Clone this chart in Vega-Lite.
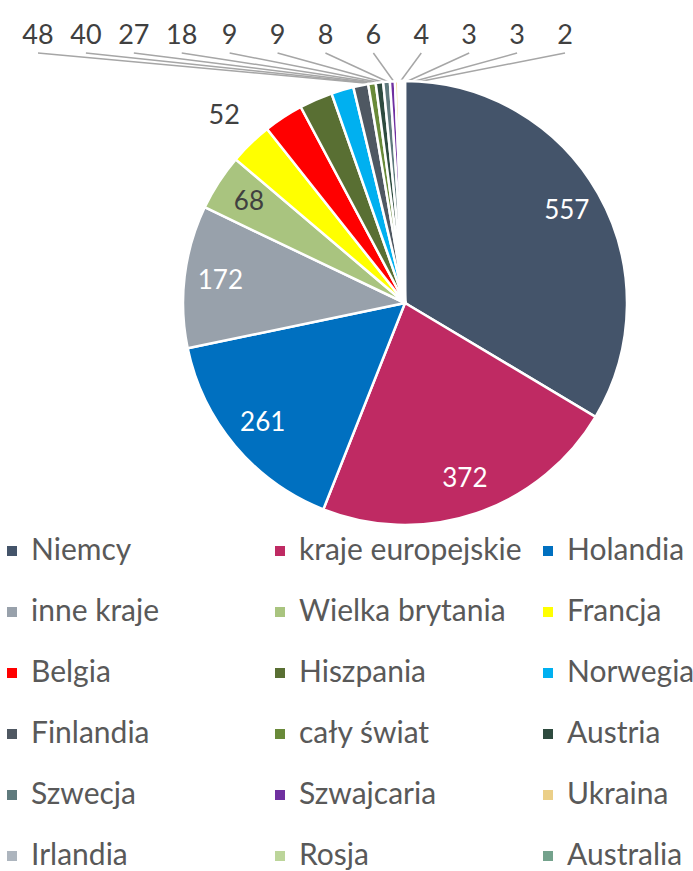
{
  "$schema": "https://vega.github.io/schema/vega-lite/v6.json",
  "width": 693,
  "height": 871,
  "padding": 0,
  "autosize": {"type": "none"},
  "background": "white",
  "config": {"view": {"stroke": null}, "font": "Lato"},
  "data": {
    "values": [
      {"rank": 1, "country": "Niemcy", "value": 557},
      {"rank": 2, "country": "kraje europejskie", "value": 372},
      {"rank": 3, "country": "Holandia", "value": 261},
      {"rank": 4, "country": "inne kraje", "value": 172},
      {"rank": 5, "country": "Wielka brytania", "value": 68},
      {"rank": 6, "country": "Francja", "value": 52},
      {"rank": 7, "country": "Belgia", "value": 48},
      {"rank": 8, "country": "Hiszpania", "value": 40},
      {"rank": 9, "country": "Norwegia", "value": 27},
      {"rank": 10, "country": "Finlandia", "value": 18},
      {"rank": 11, "country": "cały świat", "value": 9},
      {"rank": 12, "country": "Austria", "value": 9},
      {"rank": 13, "country": "Szwecja", "value": 8},
      {"rank": 14, "country": "Szwajcaria", "value": 6},
      {"rank": 15, "country": "Ukraina", "value": 4},
      {"rank": 16, "country": "Irlandia", "value": 3},
      {"rank": 17, "country": "Rosja", "value": 3},
      {"rank": 18, "country": "Australia", "value": 2}
    ]
  },
  "layer": [
    {
      "transform": [{"filter": "datum.value <= 48"}],
      "mark": {"type": "rule", "stroke": "#A6A6A6", "strokeWidth": 1.5},
      "encoding": {
        "x": {"field": "country", "type": "nominal", "scale": {"type": "point", "domain": ["Belgia", "Hiszpania", "Norwegia", "Finlandia", "cały świat", "Austria", "Szwecja", "Szwajcaria", "Ukraina", "Irlandia", "Rosja", "Australia"], "range": [38, 565], "padding": 0}, "axis": null},
        "y": {"value": 53},
        "x2": {"value": 397},
        "y2": {"value": 86}
      }
    },
    {
      "mark": {"type": "arc", "outerRadius": 222, "x": 405, "y": 303, "stroke": "white", "strokeWidth": 2.5},
      "encoding": {
        "theta": {"field": "value", "type": "quantitative", "stack": true},
        "order": {"field": "rank", "type": "quantitative"},
        "color": {
          "field": "country",
          "type": "nominal",
          "sort": null,
          "scale": {
            "domain": ["Niemcy", "kraje europejskie", "Holandia", "inne kraje", "Wielka brytania", "Francja", "Belgia", "Hiszpania", "Norwegia", "Finlandia", "cały świat", "Austria", "Szwecja", "Szwajcaria", "Ukraina", "Irlandia", "Rosja", "Australia"],
            "range": ["#44546A", "#BF2A63", "#0070C0", "#98A1AB", "#A9C47F", "#FFFF00", "#FF0000", "#596F33", "#00B0F0", "#4F5862", "#698A39", "#2E4B3F", "#5F7A7D", "#7030A0", "#EBCF88", "#ADB5BE", "#BCD59A", "#74A28C"]
          },
          "legend": {
            "orient": "none",
            "legendX": -3,
            "legendY": 536,
            "title": null,
            "direction": "horizontal",
            "columns": 3,
            "gridAlign": "all",
            "columnPadding": 11,
            "rowPadding": 31,
            "symbolType": "square",
            "symbolSize": 100,
            "symbolStrokeWidth": 0,
            "labelFont": "Lato",
            "labelFontSize": 30,
            "labelColor": "#595959",
            "labelOffset": 4,
            "labelLimit": 400
          }
        }
      }
    },
    {
      "mark": {"type": "text", "radius": 186, "x": 405, "y": 303, "font": "Lato", "fontSize": 26, "baseline": "middle", "align": "center"},
      "encoding": {
        "theta": {"field": "value", "type": "quantitative", "stack": true},
        "order": {"field": "rank", "type": "quantitative"},
        "text": {"condition": {"test": "datum.value >= 60", "field": "value", "type": "quantitative"}, "value": ""},
        "color": {"condition": {"test": "datum.value > 100", "value": "white"}, "value": "#404040"}
      }
    },
    {
      "mark": {"type": "text", "radius": 260, "x": 405, "y": 303, "font": "Lato", "fontSize": 27, "baseline": "middle", "align": "center", "color": "#404040"},
      "encoding": {
        "theta": {"field": "value", "type": "quantitative", "stack": true},
        "order": {"field": "rank", "type": "quantitative"},
        "text": {"condition": {"test": "datum.country === 'Francja'", "field": "value", "type": "quantitative"}, "value": ""}
      }
    },
    {
      "transform": [{"filter": "datum.value <= 48"}],
      "mark": {"type": "text", "font": "Lato", "fontSize": 27, "baseline": "middle", "align": "center", "color": "#404040"},
      "encoding": {
        "x": {"field": "country", "type": "nominal", "scale": {"type": "point", "domain": ["Belgia", "Hiszpania", "Norwegia", "Finlandia", "cały świat", "Austria", "Szwecja", "Szwajcaria", "Ukraina", "Irlandia", "Rosja", "Australia"], "range": [38, 565], "padding": 0}, "axis": null},
        "y": {"value": 36},
        "text": {"field": "value", "type": "quantitative"}
      }
    }
  ]
}
